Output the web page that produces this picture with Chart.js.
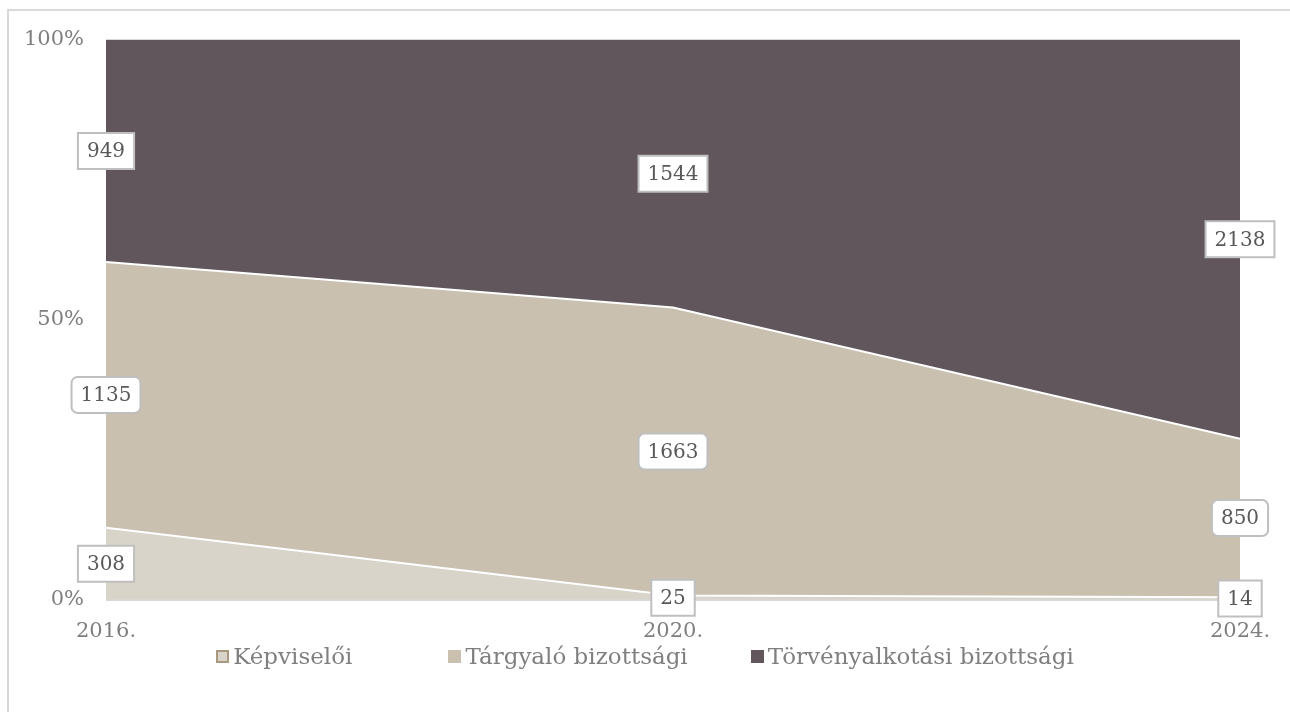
<!DOCTYPE html>
<html>
<head>
<meta charset="utf-8">
<script src="https://cdn.jsdelivr.net/npm/chart.js@4/dist/chart.umd.min.js"></script>
<style>
    html, body {margin: 0; padding: 0; background: #fff; overflow: hidden;}
    #wrap {position: relative; width: 1290px; height: 712px;}
    #frame {position: absolute; left: 7px; top: 9px; width: 1300px; height: 720px;
        border: 2px solid #d9d9d9; box-sizing: border-box; pointer-events: none;}
    #legend {position: absolute; left: 0; top: 643px; width: 1290px; display: flex;
        justify-content: center; font-family: "DejaVu Serif", serif;
        font-size: 23px; color: #7f7f7f;}
    #legend .item {display: flex; align-items: center;}
    #legend .item:nth-child(2) {margin-left: 96px;}
    #legend .item:nth-child(3) {margin-left: 63px;}
    #legend .box {width: 13px; height: 13px; margin-right: 4px; box-sizing: border-box;}
</style>
</head>
<body>
<div id="wrap">
    <div id="frame"></div>
    <canvas id="chart" width="1290" height="712"></canvas>
    <div id="legend"></div>
</div>
<script>
// categories and raw counts per series
const years = ['2016.', '2020.', '2024.'];
const seriesNames = ['Képviselői', 'Tárgyaló bizottsági', 'Törvényalkotási bizottsági'];
const kepviseloi = [308, 25, 14];
const targyalo = [1135, 1663, 850];
const torvenyalkotasi = [949, 1544, 2138];
const yTicks = [0, 50, 100];

const fillColors = ['#d9d4ca', '#c9c0b0', '#61565c'];
const legendBorders = ['#a8997f', null, null];
const roundedLabels = [false, true, false];

const raw = [kepviseloi, targyalo, torvenyalkotasi];
const totals = years.map((y, i) => raw.reduce((s, arr) => s + arr[i], 0));
const pct = raw.map(arr => arr.map((v, i) => v / totals[i] * 100));

const FONT = '"DejaVu Serif", serif';

// value boxes in the middle of each band
const bandLabels = {
    id: 'bandLabels',
    afterDatasetsDraw(chart) {
        const ctx = chart.ctx;
        const xs = chart.scales.x, ys = chart.scales.y;
        ctx.save();
        ctx.font = '20px ' + FONT;
        ctx.textAlign = 'center';
        ctx.textBaseline = 'middle';
        raw.forEach((arr, d) => {
            arr.forEach((v, i) => {
                let lo = 0;
                for (let k = 0; k < d; k++) lo += pct[k][i];
                const hi = lo + pct[d][i];
                const x = xs.getPixelForValue(i);
                const y = ys.getPixelForValue((lo + hi) / 2);
                const txt = String(v);
                const w = ctx.measureText(txt).width + 18;
                const h = 36;
                ctx.beginPath();
                if (roundedLabels[d]) {
                    ctx.roundRect(x - w / 2, y - h / 2, w, h, 6);
                } else {
                    ctx.rect(x - w / 2, y - h / 2, w, h);
                }
                ctx.fillStyle = '#fff';
                ctx.fill();
                ctx.lineWidth = 2;
                ctx.strokeStyle = '#bfbfbf';
                ctx.stroke();
                ctx.fillStyle = '#595959';
                ctx.fillText(txt, x, y + 1);
            });
        });
        ctx.restore();
    }
};

new Chart(document.getElementById('chart').getContext('2d'), {
    type: 'line',
    data: {
        labels: years,
        datasets: seriesNames.map((name, d) => ({
            label: name,
            data: pct[d],
            backgroundColor: fillColors[d],
            borderColor: d === 2 ? 'rgba(0,0,0,0)' : '#ffffff',
            borderWidth: d === 2 ? 0 : 2,
            fill: d === 0 ? 'origin' : '-1',
            pointRadius: 0,
            tension: 0
        }))
    },
    options: {
        responsive: false,
        animation: false,
        layout: {padding: {top: 40, right: 50, bottom: 49, left: 0}},
        plugins: {
            legend: {display: false},
            tooltip: {enabled: false}
        },
        scales: {
            x: {
                offset: false,
                grid: {display: false, drawTicks: false},
                border: {display: false},
                ticks: {color: '#7f7f7f', font: {family: FONT, size: 21}, padding: 19, maxRotation: 0}
            },
            y: {
                stacked: true,
                min: 0,
                max: 100,
                afterFit(scale) { scale.width = 106; },
                afterBuildTicks(scale) { scale.ticks = yTicks.map(v => ({value: v})); },
                grid: {color: '#d9d9d9', lineWidth: 2, drawTicks: false},
                border: {display: false},
                ticks: {
                    color: '#7f7f7f',
                    font: {family: FONT, size: 21},
                    padding: 22,
                    callback: v => v + '%'
                }
            }
        }
    },
    plugins: [bandLabels]
});

// html legend
const legend = document.getElementById('legend');
seriesNames.forEach((name, d) => {
    const item = document.createElement('div');
    item.className = 'item';
    const box = document.createElement('span');
    box.className = 'box';
    box.style.background = fillColors[d];
    if (legendBorders[d]) box.style.border = '2px solid ' + legendBorders[d];
    const label = document.createElement('span');
    label.textContent = name;
    item.appendChild(box);
    item.appendChild(label);
    legend.appendChild(item);
});
</script>
</body>
</html>
